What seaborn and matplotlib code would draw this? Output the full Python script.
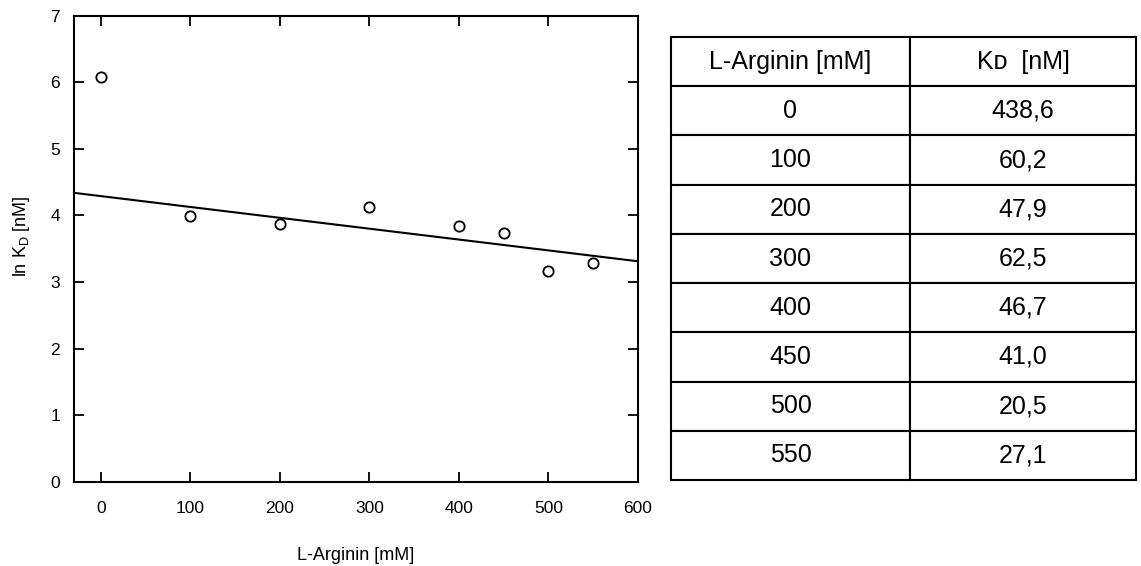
import numpy as np
import pandas as pd
import matplotlib
matplotlib.use("Agg")
import matplotlib.pyplot as plt
import seaborn as sns

# ---- data ----
arginine_mM = [0, 100, 200, 300, 400, 450, 500, 550]
ln_kd = [6.07, 3.99, 3.87, 4.13, 3.84, 3.73, 3.16, 3.28]
kd_nM_text = ["438,6", "60,2", "47,9", "62,5", "46,7", "41,0", "20,5", "27,1"]
fit_intercept = 4.29
fit_slope = -0.00163
x_ticks = [0, 100, 200, 300, 400, 500, 600]
y_ticks = [0, 1, 2, 3, 4, 5, 6, 7]
table_header = ["L-Arginin [mM]", "K\u1d05  [nM]"]

sns.set_theme(style="ticks")
plt.rcParams["font.family"] = ["Liberation Sans", "DejaVu Sans"]
plt.rcParams["mathtext.fontset"] = "custom"
plt.rcParams["mathtext.rm"] = "Liberation Sans"
plt.rcParams["text.color"] = "black"
plt.rcParams["axes.labelcolor"] = "black"

W, H = 1141, 566
fig = plt.figure(figsize=(W / 100, H / 100), dpi=100)

# ---- scatter plot ----
ax = fig.add_axes([74 / W, 1 - 482 / H, (638 - 74) / W, (482 - 15.5) / H])
df = pd.DataFrame({"x": arginine_mM, "y": ln_kd})
xlim = (-30, 600)
fit_x = np.array(xlim, dtype=float)
fit_df = pd.DataFrame({"x": fit_x, "y": fit_intercept + fit_slope * fit_x})
sns.lineplot(data=fit_df, x="x", y="y", ax=ax, color="black", lw=1.5)
sns.scatterplot(data=df, x="x", y="y", ax=ax, marker="o", s=55,
                facecolor="white", edgecolor="black", linewidth=1.3, zorder=3)
ax.set_xlim(*xlim)
ax.set_ylim(0, 7)
ax.set_xticks(x_ticks)
ax.set_yticks(y_ticks)
for s in ax.spines.values():
    s.set_visible(True)
    s.set_linewidth(1.5)
    s.set_color("black")
ax.tick_params(direction="in", length=7, width=1.3, top=True, right=True,
               labelsize=12.5, colors="black")
ax.tick_params(axis="x", pad=14)
ax.tick_params(axis="y", pad=10)
ax.set_xlabel("L-Arginin [mM]", fontsize=13, labelpad=22)
ax.set_ylabel(r"ln K$_\mathregular{D}$ [nM]", fontsize=13)
ax.yaxis.set_label_coords(-0.074, 0.527)

# ---- table ----
tax = fig.add_axes([671 / W, 1 - 480 / H, (1136 - 671) / W, (480 - 37) / H])
tax.axis("off")
cells = [[str(a), k] for a, k in zip(arginine_mM, kd_nM_text)]
tbl = tax.table(cellText=cells, colLabels=table_header, cellLoc="center",
                colWidths=[239, 226], bbox=[0, 0, 1, 1])
tbl.auto_set_font_size(False)
for (r, c), cell in tbl.get_celld().items():
    cell.set_linewidth(1.5)
    cell.set_edgecolor("black")
    cell.set_facecolor("white")
    t = cell.get_text()
    t.set_fontsize(18)
    t.set_color("black")
    t.set_fontfamily(["Liberation Sans", "DejaVu Sans"])

fig.savefig("out.png", dpi=100)
